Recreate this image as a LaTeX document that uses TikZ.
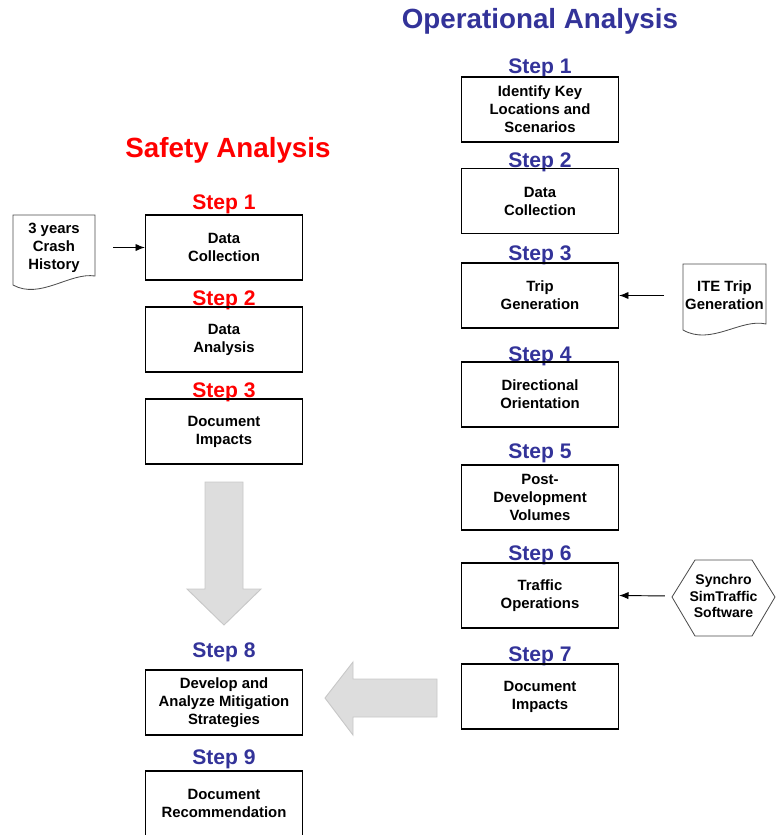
\documentclass[tikz,border=0pt]{standalone}
\usepackage{fontspec}
\setmainfont{Liberation Sans}
\usetikzlibrary{calc,arrows.meta}
\definecolor{opblue}{RGB}{51,51,153}
\definecolor{safered}{RGB}{255,0,0}
\definecolor{arrowfill}{RGB}{221,221,221}
\definecolor{arrowline}{RGB}{200,200,200}

\tikzset{
  stepbox/.style={draw, line width=1.4pt, minimum width=4.7cm, minimum height=1.95cm,
    align=center, font=\bfseries\fontsize{12.7}{15.4}\selectfont},
  steplabel/.style={anchor=base, font=\bfseries\fontsize{18}{20}\selectfont},
  title/.style={anchor=base, font=\bfseries\fontsize{23.7}{26}\selectfont},
  sidetext/.style={align=center, font=\bfseries\fontsize{12.7}{15.4}\selectfont},
  sideline/.style={draw=black!70, line width=0.7pt, fill=white},
  feed/.style={-{Latex[length=2.8mm,width=2.2mm]}, line width=0.8pt},
  blockarrow/.style={fill=arrowfill, draw=arrowline, line width=0.8pt}
}

\begin{document}
\begin{tikzpicture}[x=0.03cm, y=-0.03cm]
        \useasboundingbox (0,0) rectangle (779,835);
        % titles
        \node [title, text=opblue] (optitle) at (540,28) {Operational Analysis};
        \node [title, text=safered] (safetitle) at (228,157) {Safety Analysis};

        % safety analysis column
        \node [steplabel, text=safered] (ls1) at (224,209.5) {Step 1};
        \node [stepbox] (dc) at (224,247.5) {Data\\Collection};
        \node [steplabel, text=safered] (ls2) at (224,305.5) {Step 2};
        \node [stepbox] (da) at (224,339.5) {Data\\Analysis};
        \node [steplabel, text=safered] (ls3) at (224,397.5) {Step 3};
        \node [stepbox] (di) at (224,431.5) {Document\\Impacts};
        \node [steplabel, text=opblue] (ls8) at (224,657.5) {Step 8};
        \node [stepbox] (mit) at (224,702.5) {Develop and\\Analyze Mitigation\\Strategies};
        \node [steplabel, text=opblue] (ls9) at (224,764.5) {Step 9};
        \node [stepbox] (rec) at (224,803.5) {Document\\Recommendation};

        % operational analysis column
        \node [steplabel, text=opblue] (rs1) at (540,73) {Step 1};
        \node [stepbox] (key) at (540,109.5) {Identify Key\\Locations and\\Scenarios};
        \node [steplabel, text=opblue] (rs2) at (540,167.5) {Step 2};
        \node [stepbox] (coll) at (540,201) {Data\\Collection};
        \node [steplabel, text=opblue] (rs3) at (540,260.5) {Step 3};
        \node [stepbox] (trip) at (540,295.5) {Trip\\Generation};
        \node [steplabel, text=opblue] (rs4) at (540,361.5) {Step 4};
        \node [stepbox] (dir) at (540,394.5) {Directional\\Orientation};
        \node [steplabel, text=opblue] (rs5) at (540,458.5) {Step 5};
        \node [stepbox] (post) at (540,497.5) {Post-\\Development\\Volumes};
        \node [steplabel, text=opblue] (rs6) at (540,560.5) {Step 6};
        \node [stepbox] (ops) at (540,595.5) {Traffic\\Operations};
        \node [steplabel, text=opblue] (rs7) at (540,661.5) {Step 7};
        \node [stepbox] (imp) at (540,696.5) {Document\\Impacts};

        % input documents
        \draw [sideline] (13,215) -- (95,215) -- (95,276) .. controls (70,272) and (40,300) .. (13,285) -- cycle;
        \node [sidetext, minimum width=2.46cm] (crash) at (54,247.5) {3 years\\Crash\\History};
        \draw [sideline] (683,264) -- (766,264) -- (766,324) .. controls (741,318) and (711,346) .. (683,330) -- cycle;
        \node [sidetext, minimum width=2.49cm] (ite) at (724.5,295.5) {ITE Trip\\Generation};
        \draw [sideline] (672,597) -- (695,560) -- (752,560) -- (775,597) -- (752,636) -- (695,636) -- cycle;
        \node [sidetext, minimum width=3.09cm, font=\bfseries\fontsize{12}{14}\selectfont] (synchro) at (723.5,596)
          {Synchro\\SimTraffic\\Software};

        \draw [feed, shorten <=0.54cm] (crash.east) -- (dc.west);
        \draw [feed, shorten <=0.51cm] (ite.west) -- (trip.east);
        \draw [feed, shorten <=0.21cm] (synchro.west) -- (ops.east);

        % big gray arrows
        \filldraw [blockarrow] (205,482) -- (243,482) -- (243,589) -- (261,589) -- (224,625) -- (187,589) -- (205,589) -- cycle;
        \filldraw [blockarrow] (437,679) -- (353,679) -- (353,662) -- (325,698) -- (353,735) -- (353,717) -- (437,717) -- cycle;
    \end{tikzpicture}
\end{document}
